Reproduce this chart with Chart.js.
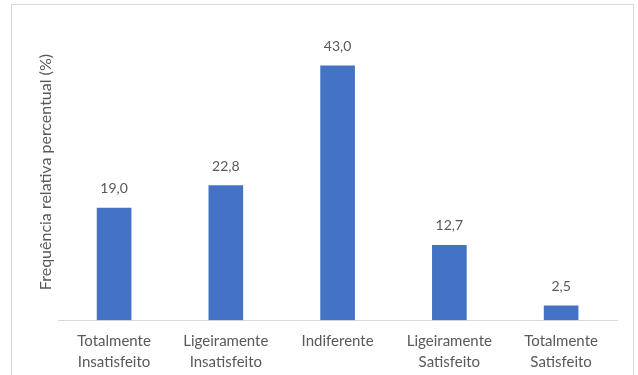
<!DOCTYPE html>
<html lang="pt">
<head>
    <meta charset="UTF-8">
    <title>Frequência relativa percentual</title>
    <script src="https://cdn.jsdelivr.net/npm/chart.js"></script>
    <style>
        html, body {
            margin: 0;
            padding: 0;
            background: #ffffff;
            overflow: hidden;
        }
        canvas {
            display: block;
        }
    </style>
</head>
<body>
    <canvas id="satisfacaoChart" width="638" height="375"></canvas>
    <script>
        // categorias e valores (%)
        const categorias = [
            ['Totalmente', 'Insatisfeito'],
            ['Ligeiramente', 'Insatisfeito'],
            ['Indiferente'],
            ['Ligeiramente', 'Satisfeito'],
            ['Totalmente', 'Satisfeito']
        ];
        const frequencias = [19.0, 22.8, 43.0, 12.7, 2.5];
        const tituloY = 'Frequência relativa percentual (%)';

        const fonte = 'Lato, "Open Sans", sans-serif';
        const corTexto = '#595959';

        // moldura cinza em volta do gráfico
        const moldura = {
            id: 'moldura',
            beforeDraw(chart) {
                const c = chart.ctx;
                c.save();
                c.fillStyle = '#ffffff';
                c.fillRect(0, 0, chart.width, chart.height);
                c.strokeStyle = '#d9d9d9';
                c.lineWidth = 1;
                c.strokeRect(11.5, 4.5, 622, 400);
                c.restore();
            }
        };

        // rótulos de valor acima das barras, com vírgula decimal
        const rotulosValor = {
            id: 'rotulosValor',
            afterDatasetsDraw(chart) {
                const c = chart.ctx;
                const meta = chart.getDatasetMeta(0);
                c.save();
                c.font = '14px ' + fonte;
                c.fillStyle = corTexto;
                c.textAlign = 'center';
                c.textBaseline = 'middle';
                meta.data.forEach((bar, i) => {
                    const txt = frequencias[i].toFixed(1).replace('.', ',');
                    c.fillText(txt, bar.x, bar.y - 19);
                });
                c.restore();
            }
        };

        const ctx = document.getElementById('satisfacaoChart').getContext('2d');
        const satisfacaoChart = new Chart(ctx, {
            type: 'bar',
            data: {
                labels: categorias,
                datasets: [{
                    data: frequencias,
                    backgroundColor: '#4472C4',
                    borderWidth: 0,
                    categoryPercentage: 1,
                    barPercentage: 0.31
                }]
            },
            options: {
                responsive: false,
                animation: false,
                layout: {
                    padding: { left: 33, right: 21, top: 24, bottom: -8 }
                },
                plugins: {
                    legend: { display: false },
                    tooltip: { enabled: false }
                },
                scales: {
                    x: {
                        grid: { display: false, drawTicks: false },
                        border: { display: true, color: '#d9d9d9', width: 1 },
                        ticks: {
                            color: corTexto,
                            font: { family: fonte, size: 15, lineHeight: 1.36 },
                            padding: 11,
                            maxRotation: 0,
                            autoSkip: false
                        }
                    },
                    y: {
                        min: 0,
                        max: 50,
                        grid: { display: false, drawTicks: false },
                        border: { display: false },
                        ticks: { display: false },
                        title: {
                            display: true,
                            text: tituloY,
                            color: corTexto,
                            font: { family: fonte, size: 16, lineHeight: 1.2 },
                            padding: { top: 3, bottom: 3 }
                        }
                    }
                }
            },
            plugins: [moldura, rotulosValor]
        });
    </script>
</body>
</html>
